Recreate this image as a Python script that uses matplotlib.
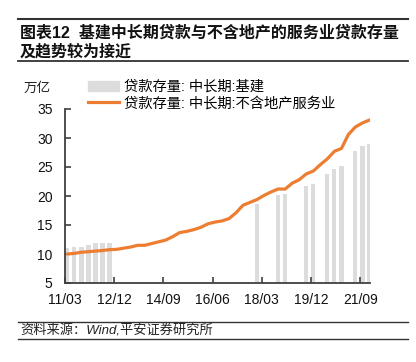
import matplotlib.pyplot as plt
from matplotlib.lines import Line2D
from matplotlib.patches import Patch
import pandas as pd

plt.rcParams['font.family'] = ['Liberation Sans', 'Noto Sans CJK SC']

# quarterly loan balance, 万亿
line_months = ['2011-03', '2011-06', '2011-09', '2011-12', '2012-03', '2012-06', '2012-09', '2012-12',
               '2013-03', '2013-06', '2013-09', '2013-12', '2014-03', '2014-06', '2014-09', '2014-12',
               '2015-03', '2015-06', '2015-09', '2015-12', '2016-03', '2016-06', '2016-09', '2016-12',
               '2017-03', '2017-06', '2017-09', '2017-12', '2018-03', '2018-06', '2018-09', '2018-12',
               '2019-03', '2019-06', '2019-09', '2019-12', '2020-03', '2020-06', '2020-09', '2020-12',
               '2021-03', '2021-06', '2021-09', '2021-12']
line_values = [10.0, 10.1, 10.3, 10.4, 10.5, 10.6, 10.75, 10.8,
               11.0, 11.2, 11.5, 11.5, 11.8, 12.1, 12.4, 13.0,
               13.7, 13.9, 14.2, 14.6, 15.2, 15.5, 15.7, 16.1,
               17.1, 18.4, 18.9, 19.4, 20.1, 20.7, 21.2, 21.2,
               22.2, 22.8, 23.8, 24.3, 25.4, 26.4, 27.7, 28.2,
               30.6, 31.9, 32.6, 33.1]

bar_months = ['2011-03', '2011-06', '2011-09', '2011-12', '2012-03', '2012-06', '2012-09',
              '2017-12', '2018-09', '2018-12', '2019-09', '2019-12', '2020-06', '2020-09',
              '2020-12', '2021-06', '2021-09', '2021-12']
bar_values = [10.95, 11.15, 11.15, 11.55, 11.95, 11.95, 11.95,
              18.6, 20.1, 20.3, 21.7, 22.1, 23.8, 24.6,
              25.2, 27.7, 28.7, 28.9]

tick_labels = ['11/03', '12/12', '14/09', '16/06', '18/03', '19/12', '21/09']

bar_name = '贷款存量: 中长期:基建'
line_name = '贷款存量: 中长期:不含地产服务业'

fig = plt.figure(figsize=(4.16, 3.62), dpi=100)
ax = fig.add_axes([65 / 416, 1 - 283 / 362, 305 / 416, 174 / 362])

bar_x = pd.to_datetime(bar_months) + pd.offsets.MonthEnd(0)
line_x = pd.to_datetime(line_months) + pd.offsets.MonthEnd(0)

ax.bar(bar_x, bar_values, width=55, color='#dcdcdc', zorder=1)
ax.plot(line_x, line_values, color='#ed7d31', lw=2.3, zorder=2, solid_capstyle='round')

ax.set_ylim(5, 35)
ax.set_yticks(range(5, 40, 5))
ax.set_xlim(pd.Timestamp('2011-03-01'), pd.Timestamp('2022-01-06'))
ax.set_xticks(pd.to_datetime(['20' + t for t in tick_labels], format='%Y/%m'))
ax.set_xticklabels(tick_labels)

for s in ['top', 'right']:
    ax.spines[s].set_visible(False)
for s in ['left', 'bottom']:
    ax.spines[s].set_color('#404040')
    ax.spines[s].set_linewidth(1.3)
ax.tick_params(direction='in', length=4, width=1.2, color='#404040', labelsize=10, labelcolor='#111111')
ax.tick_params(axis='x', pad=7)
ax.tick_params(axis='y', pad=9)

fig.text(37 / 416, 1 - 89 / 362, '万亿', fontsize=9.7, ha='center', va='center', color='#222222')

handles = [Patch(color='#dcdcdc'), Line2D([], [], color='#ed7d31', lw=2.3)]
fig.legend(handles, [bar_name, line_name], loc='upper left', bbox_to_anchor=(88 / 416, 1 - 80 / 362),
           borderaxespad=0, borderpad=0, frameon=False, fontsize=10.3, handlelength=2.2,
           handletextpad=0.35, labelspacing=0.15)

# title block and rules
fig.text(20 / 416, 1 - 33 / 362, '图表12  基建中长期贷款与不含地产的服务业贷款存量',
         fontsize=11.5, fontweight='bold', va='center', color='#111111')
fig.text(20 / 416, 1 - 52 / 362, '及趋势较为接近', fontsize=11.5, fontweight='bold', va='center', color='#111111')
fig.text(20 / 416, 1 - 331 / 362, '资料来源：Wind,平安证券研究所', fontsize=9.5, style='italic',
         va='center', color='#222222')

for yy, lw in [(19, 1.5), (61, 1.3), (321.5, 1.0), (339, 1.0)]:
    fig.add_artist(Line2D([18 / 416, 408 / 416], [1 - yy / 362, 1 - yy / 362], color='#333333', lw=lw))

fig.savefig('out.png', dpi=100)
